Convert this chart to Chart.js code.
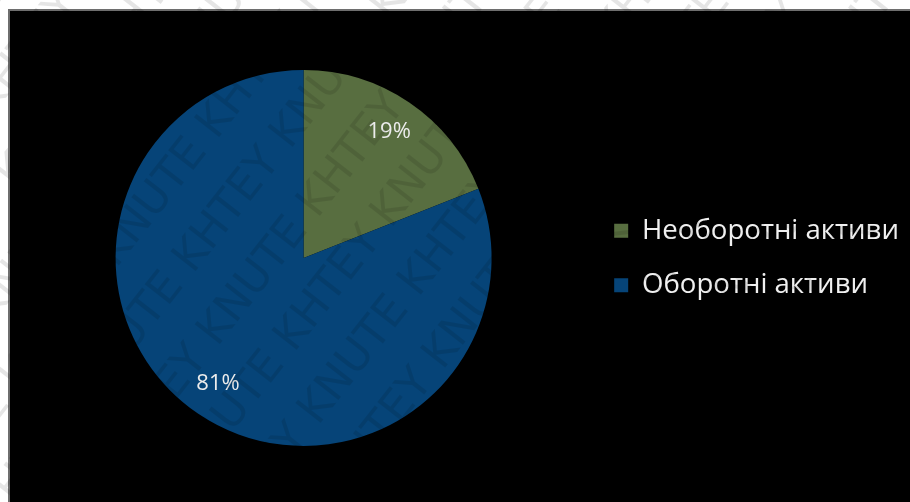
<!DOCTYPE html>
<html>
<head>
<meta charset="utf-8">
<script src="https://cdn.jsdelivr.net/npm/chart.js@4/dist/chart.umd.min.js"></script>
<style>
  html, body { margin: 0; padding: 0; background: #fff; }
  #wrap { width: 910px; height: 502px; }
</style>
</head>
<body>
<div id="wrap"><canvas id="pie-canvas"></canvas></div>
<script>
var labels = ['Необоротні активи', 'Оборотні активи'];
var shares = [19, 81];
var colors = ['#586E40', '#064478'];

// white page with a black panel and thin grey frame behind the pie
var panel = {
    id: 'panel',
    beforeDraw: function (chart) {
        var ctx = chart.ctx;
        ctx.save();
        ctx.fillStyle = '#ffffff';
        ctx.fillRect(0, 0, chart.width, chart.height);
        ctx.fillStyle = '#6e6e6e';
        ctx.fillRect(8, 9, chart.width - 8, chart.height - 9);
        ctx.fillStyle = '#000000';
        ctx.fillRect(10, 11, chart.width - 10, chart.height - 11);
        ctx.restore();
    }
};

// percentage text inside each slice
var sliceLabels = {
    id: 'sliceLabels',
    afterDatasetsDraw: function (chart) {
        var ctx = chart.ctx;
        var meta = chart.getDatasetMeta(0);
        var data = chart.data.datasets[0].data;
        var total = data.reduce(function (a, b) { return a + b; }, 0);
        ctx.save();
        ctx.font = '22px "Open Sans"';
        ctx.fillStyle = '#ececec';
        ctx.textAlign = 'center';
        ctx.textBaseline = 'middle';
        meta.data.forEach(function (arc, i) {
            var p = arc.getProps(['x', 'y', 'startAngle', 'endAngle', 'outerRadius']);
            var mid = (p.startAngle + p.endAngle) / 2;
            var r = p.outerRadius * 0.81;
            ctx.fillText(Math.round(data[i] / total * 100) + '%', p.x + Math.cos(mid) * r, p.y + Math.sin(mid) * r);
        });
        ctx.restore();
    }
};

// faint diagonal "KHTEY KNUTE" stamp over everything
var stamp = {
    id: 'stamp',
    afterDraw: function (chart) {
        var ctx = chart.ctx;
        ctx.save();
        ctx.font = '44px "DejaVu Sans"';
        ctx.fillStyle = 'rgba(0,0,0,0.1)';
        ctx.translate(chart.width / 2, chart.height / 2);
        ctx.rotate(-52 * Math.PI / 180);
        var word = 'KHTEY KNUTE KHTEY KNUTE KHTEY KNUTE KHTEY KNUTE ';
        for (var row = -9; row <= 9; row++) {
            ctx.fillText(word, -700 + (row % 2) * 120, row * 64);
        }
        ctx.restore();
    }
};

new Chart('pie-canvas', {
    type: 'pie',
    data: {
        labels: labels,
        datasets: [{
            data: shares,
            backgroundColor: colors,
            hoverBackgroundColor: colors,
            borderWidth: 0
        }]
    },
    options: {
        responsive: true,
        maintainAspectRatio: false,
        animation: false,
        layout: {
            padding: { left: 20, top: 70, bottom: 56, right: 1 }
        },
        plugins: {
            tooltip: { enabled: false },
            legend: {
                position: 'right',
                align: 'center',
                labels: {
                    color: '#f0f0f0',
                    font: { family: 'Open Sans', size: 27.6 },
                    boxWidth: 14,
                    boxHeight: 14,
                    padding: 27
                }
            }
        }
    },
    plugins: [panel, sliceLabels, stamp]
});
</script>
</body>
</html>
